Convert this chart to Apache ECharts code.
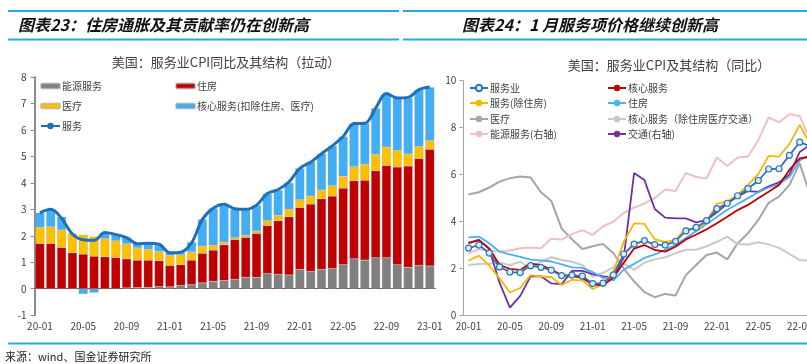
<!DOCTYPE html>
<html><head><meta charset="utf-8">
<script src="https://cdn.jsdelivr.net/npm/echarts@6/dist/echarts.min.js"></script>
<style>html,body{margin:0;padding:0;background:#fff}#c{width:807px;height:364px}</style>
</head><body><div id="c"></div>
<script>
// ---------- categories ----------
const months = ['20-01','20-02','20-03','20-04','20-05','20-06','20-07','20-08','20-09','20-10','20-11','20-12',
  '21-01','21-02','21-03','21-04','21-05','21-06','21-07','21-08','21-09','21-10','21-11','21-12',
  '22-01','22-02','22-03','22-04','22-05','22-06','22-07','22-08','22-09','22-10','22-11','22-12','23-01'];

// ---------- left chart: contributions (pp) ----------
const energyContrib = [0,0,0,0,0,0,0,0,0.03,0.04,0.05,0.08,0.07,0.12,0.15,0.22,0.28,0.31,0.35,0.43,0.43,0.57,0.54,0.52,0.73,0.65,0.73,0.76,0.91,1.13,1.08,1.17,1.17,0.91,0.81,0.88,0.86];
const housingContrib = [1.71,1.71,1.56,1.36,1.31,1.23,1.21,1.18,1.10,1.04,1.03,0.98,0.81,0.79,0.93,1.12,1.18,1.35,1.51,1.51,1.66,1.82,2.03,2.20,2.34,2.55,2.67,2.74,2.89,2.95,3.02,3.29,3.49,3.69,3.83,4.04,4.41];
const medicalContrib = [0.61,0.63,0.66,0.71,0.73,0.74,0.68,0.63,0.56,0.46,0.41,0.35,0.38,0.37,0.31,0.27,0.18,0.10,0.07,0.08,0.09,0.18,0.20,0.28,0.29,0.30,0.33,0.39,0.45,0.53,0.60,0.61,0.69,0.62,0.45,0.45,0.33];
const coreOtherContrib = [0.55,0.66,0.50,0.02,-0.20,-0.15,0.23,0.26,0.25,0.17,0.20,0.25,0.10,0.08,0.37,1.01,1.40,1.39,1.07,0.96,0.97,1.01,0.95,1.00,1.19,1.30,1.37,1.51,1.50,1.62,1.55,1.75,2.00,1.98,2.11,2.14,2.01];
const servicesYoY = [2.87,3.00,2.66,2.07,1.85,1.83,2.12,2.05,1.93,1.70,1.72,1.68,1.36,1.38,1.73,2.62,3.04,3.19,3.02,3.00,3.16,3.60,3.75,4.04,4.55,4.78,5.10,5.40,5.75,6.24,6.25,6.82,7.38,7.21,7.23,7.52,7.62];

// ---------- right chart: YoY (%) ----------
const coreServ = [3.10,3.20,2.86,2.15,1.99,1.94,2.22,2.15,1.96,1.72,1.68,1.60,1.32,1.28,1.62,2.25,2.85,3.00,2.79,2.72,2.93,3.24,3.45,3.67,3.93,4.21,4.49,4.71,4.99,5.27,5.56,6.20,6.69,6.76];
const servExHousing = [2.33,2.55,2.13,1.58,0.98,1.17,1.72,1.66,1.64,1.30,1.52,1.50,1.13,1.32,1.87,3.14,3.92,3.90,3.24,3.14,3.21,3.71,3.64,4.00,4.76,4.85,5.13,5.56,6.02,6.80,6.77,7.30,8.12,7.30];
const housing = [3.33,3.36,3.08,2.72,2.60,2.50,2.38,2.35,2.30,2.18,2.05,2.03,1.85,1.60,1.50,1.95,2.20,2.45,2.60,2.80,3.00,3.30,3.60,3.90,4.20,4.50,4.75,5.00,5.25,5.45,5.60,5.90,6.60,6.85];
const medical = [5.15,5.25,5.45,5.70,5.85,5.92,5.88,5.25,4.88,3.70,3.25,2.83,2.95,3.05,2.65,2.00,1.45,1.00,0.78,0.92,0.85,1.72,2.15,2.58,2.68,2.39,3.07,3.50,4.07,4.80,5.06,5.56,6.48,5.15];
const coreExHMT = [2.15,2.19,2.20,2.25,2.15,2.29,2.00,2.29,2.48,2.36,2.29,2.15,1.65,1.82,2.05,2.22,1.94,2.25,2.39,2.48,2.65,2.80,2.80,2.95,3.14,3.36,3.04,3.02,3.12,3.03,2.88,2.62,2.36,2.33];
const energyServ = [1.9,2.5,2.2,2.2,2.3,2.6,2.7,2.6,3.8,3.7,4.4,4.9,4.3,5.4,6.0,7.1,7.8,8.3,9.0,10.1,9.9,12.2,11.7,11.5,14.2,13.1,14.2,14.3,16.4,19.3,18.7,19.7,19.5,16.4];
const transport = [3.2,3.7,2.5,-1.8,-5.0,-3.5,-1.0,-1.0,-1.9,-2.0,-0.3,-0.3,-0.7,-1.0,-1.1,1.4,12.2,11.3,7.6,6.5,6.4,6.4,5.9,6.2,7.2,8.3,9.2,9.9,9.8,10.5,11.0,12.0,14.9,15.8];

const FONT = '"Noto Sans CJK SC", sans-serif';
const TXT = '#404040';

const chart = echarts.init(document.getElementById('c'), null, {renderer: 'canvas'});

function lg(name, left, top, extra) {
  return Object.assign({
    data: [name], left: left, top: top, itemWidth: 19, itemHeight: 5, itemGap: 0,
    textStyle: {fontSize: 10, color: TXT, fontFamily: FONT, padding: [0,0,0,-3]},
    selectedMode: false, padding: 0
  }, extra || {});
}

const legends = [
  lg('能源服务', 40, 81),
  lg('住房', 175, 81),
  lg('医疗', 40, 101),
  lg('核心服务(扣除住房、医疗)', 175, 101),
  lg('服务', 40, 121, {itemHeight: 8}),
  lg('服务业', 469, 83, {itemHeight: 8, itemWidth: 18}),
  lg('核心服务', 607, 83, {itemHeight: 8, itemWidth: 18}),
  lg('服务(除住房)', 469, 98, {itemHeight: 8, itemWidth: 18}),
  lg('住房 ', 607, 98, {itemHeight: 8, itemWidth: 18}),
  lg('医疗 ', 469, 114, {itemHeight: 8, itemWidth: 18}),
  lg('核心服务（除住房医疗交通）', 607, 114, {itemHeight: 8, itemWidth: 18}),
  lg('能源服务(右轴)', 469, 129, {itemHeight: 8, itemWidth: 18}),
  lg('交通(右轴)', 607, 129, {itemHeight: 8, itemWidth: 18})
];

function rline(name, data, color, yIdx, extra) {
  return Object.assign({
    name: name, type: 'line', xAxisIndex: 1, yAxisIndex: yIdx, data: data,
    symbol: 'none', lineStyle: {color: color, width: 1.8}, itemStyle: {color: color},
    smooth: false, z: 3
  }, extra || {});
}

const option = {
  animation: false,
  backgroundColor: '#fff',
  textStyle: {fontFamily: FONT},
  legend: legends,
  grid: [
    {left: 34.5, top: 77, width: 400.7, height: 238.2, containLabel: false, outerBoundsMode: 'none'},
    {left: 463.3, top: 80.7, width: 383, height: 234.8, containLabel: false, outerBoundsMode: 'none'}
  ],
  xAxis: [
    {gridIndex: 0, type: 'category', data: months, boundaryGap: true,
     axisLine: {onZero: true, lineStyle: {color: '#595959', width: 1}},
     axisTick: {interval: 3, length: 4, lineStyle: {color: '#595959'}},
     axisLabel: {interval: 3, margin: 6, fontSize: 10, color: TXT, fontFamily: FONT}},
    {gridIndex: 1, type: 'category', data: months, boundaryGap: true,
     axisLine: {lineStyle: {color: '#a6a6a6', width: 1}},
     axisTick: {interval: 3, length: 4, lineStyle: {color: '#a6a6a6'}},
     axisLabel: {interval: 3, margin: 6, fontSize: 10, color: TXT, fontFamily: FONT}}
  ],
  yAxis: [
    {gridIndex: 0, type: 'value', min: -1, max: 8, interval: 1,
     axisLine: {show: true, lineStyle: {color: '#8c8c8c', width: 2}},
     axisTick: {show: true, length: 4, lineStyle: {color: '#8c8c8c'}},
     splitLine: {show: false},
     axisLabel: {margin: 8, fontSize: 10, color: TXT, fontFamily: FONT}},
    {gridIndex: 1, type: 'value', min: 0, max: 10, interval: 2,
     axisLine: {show: true, lineStyle: {color: '#a6a6a6', width: 1}},
     axisTick: {show: true, length: 4, lineStyle: {color: '#a6a6a6'}},
     splitLine: {show: false},
     axisLabel: {margin: 7, fontSize: 10, color: TXT, fontFamily: FONT}},
    {gridIndex: 1, type: 'value', min: -6, max: 24, show: false, splitLine: {show: false}}
  ],
  series: [
    {name: '能源服务', type: 'bar', stack: 'c', xAxisIndex: 0, yAxisIndex: 0, data: energyContrib,
     barCategoryGap: '16%', itemStyle: {color: '#808080', borderColor: 'rgba(160,160,160,0.5)', borderWidth: 0.5}},
    {name: '住房', type: 'bar', stack: 'c', xAxisIndex: 0, yAxisIndex: 0, data: housingContrib,
     itemStyle: {color: '#C00000', borderColor: 'rgba(160,160,160,0.5)', borderWidth: 0.5}},
    {name: '医疗', type: 'bar', stack: 'c', xAxisIndex: 0, yAxisIndex: 0, data: medicalContrib,
     itemStyle: {color: '#FFC000', borderColor: 'rgba(160,160,160,0.5)', borderWidth: 0.5}},
    {name: '核心服务(扣除住房、医疗)', type: 'bar', stack: 'c', xAxisIndex: 0, yAxisIndex: 0, data: coreOtherContrib,
     itemStyle: {color: '#41AEF5', borderColor: 'rgba(160,160,160,0.5)', borderWidth: 0.5}},
    {name: '服务', type: 'line', xAxisIndex: 0, yAxisIndex: 0, data: servicesYoY, symbol: 'none', smooth: 0.35,
     lineStyle: {color: '#1F70B8', width: 3}, itemStyle: {color: '#1F70B8'}, z: 5},

    rline('医疗 ', medical, '#A5A5A5', 1, {lineStyle: {color: '#A5A5A5', width: 2}}),
    rline('核心服务（除住房医疗交通）', coreExHMT, '#C9C9C9', 1, {lineStyle: {color: '#C9C9C9', width: 2}}),
    rline('能源服务(右轴)', energyServ, '#EDC1C1', 2, {lineStyle: {color: '#EDC1C1', width: 2}}),
    rline('交通(右轴)', transport, '#7030A0', 2),
    rline('住房 ', housing, '#4DB0F0', 1),
    rline('服务(除住房)', servExHousing, '#F5B800', 1),
    rline('核心服务', coreServ, '#C00000', 1),
    rline('服务业', servicesYoY, '#2E75B6', 1, {symbol: 'circle', symbolSize: 6, showSymbol: true,
      itemStyle: {color: '#DCEBF7', borderColor: '#2E75B6', borderWidth: 1.2}, z: 6})
  ],
  graphic: [
    {type: 'line', shape: {x1: 8, y1: 11, x2: 399, y2: 11}, style: {stroke: '#29A9E1', lineWidth: 2}},
    {type: 'line', shape: {x1: 8, y1: 39.5, x2: 399, y2: 39.5}, style: {stroke: '#29A9E1', lineWidth: 2}},
    {type: 'line', shape: {x1: 403, y1: 11, x2: 807, y2: 11}, style: {stroke: '#29A9E1', lineWidth: 2}},
    {type: 'line', shape: {x1: 403, y1: 39.5, x2: 807, y2: 39.5}, style: {stroke: '#29A9E1', lineWidth: 2}},
    {type: 'line', shape: {x1: 8, y1: 343.5, x2: 807, y2: 343.5}, style: {stroke: '#29A9E1', lineWidth: 2}},
    {type: 'text', x: 18, y: 25, style: {text: '图表23：住房通胀及其贡献率仍在创新高', fontSize: 16, fontWeight: 'bold', fontStyle: 'italic', fontFamily: FONT, fill: '#111', textVerticalAlign: 'middle'}},
    {type: 'text', x: 462, y: 25, style: {text: '图表24：1 月服务项价格继续创新高', fontSize: 16, fontWeight: 'bold', fontStyle: 'italic', fontFamily: FONT, fill: '#111', textVerticalAlign: 'middle'}},
    {type: 'text', x: 226, y: 62, style: {text: '美国：服务业CPI同比及其结构（拉动）', fontSize: 13, fontFamily: FONT, fill: '#404040', textAlign: 'center', textVerticalAlign: 'middle'}},
    {type: 'text', x: 669, y: 65, style: {text: '美国：服务业CPI及其结构（同比）', fontSize: 13, fontFamily: FONT, fill: '#404040', textAlign: 'center', textVerticalAlign: 'middle'}},
    {type: 'text', x: 5, y: 357, style: {text: '来源：wind、国金证券研究所', fontSize: 11, fontFamily: FONT, fill: '#222', textVerticalAlign: 'middle'}}
  ]
};
chart.setOption(option);
</script>
</body></html>
